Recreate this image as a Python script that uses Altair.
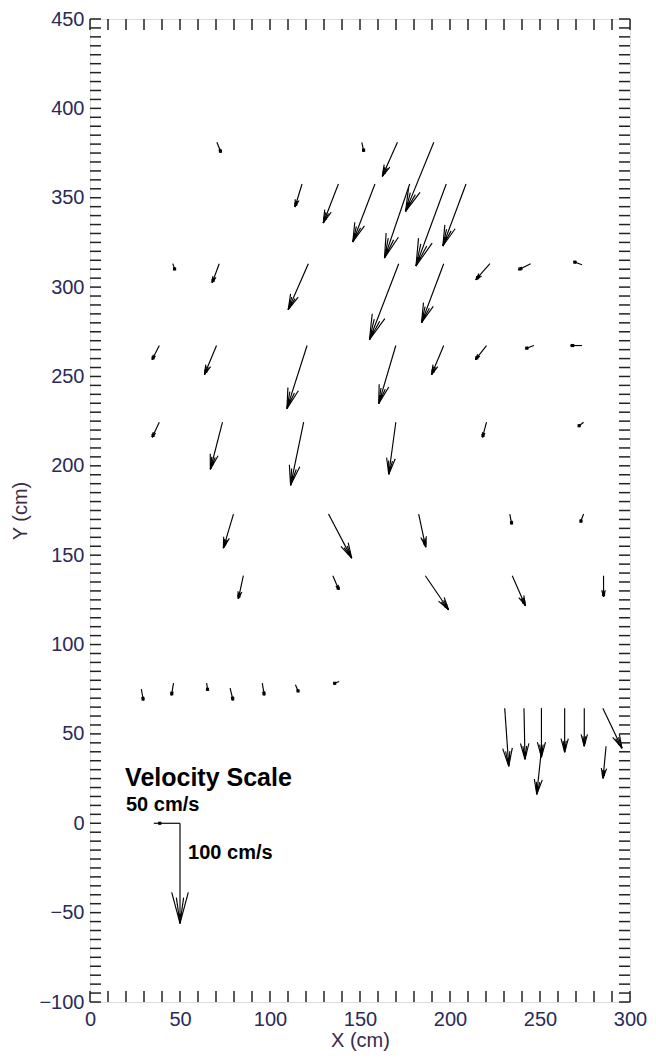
import math
import altair as alt
import pandas as pd

# ---------------- data ----------------
# arrow origins (cm)
x_pos = [70.5, 151.0, 170.8, 191.0,
         117.8, 138.0, 158.3, 177.6, 197.9, 208.9,
         46.0, 71.8, 121.3, 171.5, 196.5, 222.2, 244.8, 273.3,
         38.5, 70.3, 120.6, 169.9, 196.5, 220.3, 246.6, 273.3,
         38.5, 73.6, 118.7, 169.9, 220.3, 274.2,
         79.7, 132.5, 182.6, 233.2, 274.2,
         85.2, 134.9, 186.3, 234.6, 285.3,
         28.5, 46.4, 64.8, 77.8, 95.7, 114.1, 138.4,
         230.4, 241.1, 250.8, 251.0, 263.7, 274.6, 284.9, 286.7]
y_pos = [381.0, 381.0, 381.0, 381.0,
         357.7, 357.7, 357.7, 357.7, 357.7, 357.7,
         313.1, 313.1, 313.1, 313.1, 313.1, 313.1, 313.1, 312.5,
         267.3, 267.3, 267.3, 267.3, 267.3, 267.3, 267.3, 267.3,
         224.4, 224.4, 224.4, 224.4, 224.4, 224.4,
         173.0, 173.0, 173.0, 173.0, 173.0,
         138.5, 138.5, 138.5, 138.5, 138.5,
         75.0, 78.4, 78.4, 75.6, 78.4, 77.5, 79.3,
         64.4, 64.4, 64.4, 43.1, 64.4, 64.4, 64.4, 43.1]
# velocity components (cm/s)
u_vel = [4, 2, -15, -28,
         -7, -15, -22, -25, -30, -23,
         2, -7, -20, -29, -22, -14, -12, -8,
         -7, -12, -20, -17, -12, -11, -8, -11,
         -7, -12, -13, -7, -4, -5,
         -10, 23, 7, 2, -3,
         -5, 6, 23, 13, 0,
         2, -2, 1, 3, 2, 3, -5,
         4, 1, 0, -5, 0, 0, 19, -3]
v_vel = [-10, -9, -34, -69,
         -23, -39, -58, -74, -82, -62,
         -6, -19, -46, -76, -59, -16, -6, 3,
         -14, -29, -63, -58, -29, -14, -3, 0,
         -15, -47, -63, -52, -15, -4,
         -34, -44, -33, -10, -8,
         -23, -14, -34, -30, -21,
         -11, -12, -7, -12, -12, -7, -2,
         -58, -51, -49, -48, -44, -38, -40, -32]

# velocity-scale key
key_x = [50.0, 50.0]
key_y = [0.0, 0.0]
key_u = [-26, 0]
key_v = [0, -100]

x_ticks_major = [0, 50, 100, 150, 200, 250, 300]
y_ticks_major = [-100, -50, 0, 50, 100, 150, 200, 250, 300, 350, 400, 450]
x_ticks_minor = list(range(0, 301, 10))
y_ticks_minor = list(range(-100, 451, 5))

# ---------------- geometry helpers ----------------
W, H = 540, 983
SX, SY = W / 300.0, H / 550.0
S = 0.56  # data units per cm/s


def build(xs, ys, us, vs, heads=True):
    segs, pts = [], []
    for x, y, u, v in zip(xs, ys, us, vs):
        x2, y2 = x + u * S, y + v * S
        segs.append(dict(x=x, y=y, x2=x2, y2=y2))
        dxp, dyp = u * S * SX, v * S * SY
        L = math.hypot(dxp, dyp)
        if L == 0:
            continue
        bx, by = -dxp / L, -dyp / L
        if heads:
            for deg, frac in ((15, 0.32), (-15, 0.32), (8, 0.26), (-8, 0.26)):
                h = frac * L
                a = math.radians(deg)
                rx = bx * math.cos(a) - by * math.sin(a)
                ry = bx * math.sin(a) + by * math.cos(a)
                segs.append(dict(x=x2, y=y2, x2=x2 + h * rx / SX,
                                 y2=y2 + h * ry / SY))
            back = min(0.12 * L, 8)
        else:
            back = 6
        pts.append(dict(x=x2 + back * bx / SX, y=y2 + back * by / SY))
    return segs, pts


seg_a, pt_a = build(x_pos, y_pos, u_vel, v_vel)
seg_k1, pt_k1 = build(key_x[:1], key_y[:1], key_u[:1], key_v[:1], heads=False)
seg_k2, pt_k2 = build(key_x[1:], key_y[1:], key_u[1:], key_v[1:])
segs = pd.DataFrame(seg_a + seg_k1 + seg_k2)
pts = pd.DataFrame(pt_a + pt_k1 + pt_k2)

xs = alt.Scale(domain=[0, 300], nice=False, zero=False)
ys = alt.Scale(domain=[-100, 450], nice=False, zero=False)

LABEL_COLOR = "#2a2a58"
TITLE_COLOR = "#3a2b4a"
FONT = "Liberation Sans"

x_axis = alt.Axis(values=x_ticks_major, ticks=False, domain=False, grid=False,
                  labelFontSize=20, labelFont=FONT, labelColor=LABEL_COLOR,
                  labelPadding=7, labelFlush=False, labelOverlap=False,
                  title="X (cm)", titleFont=FONT,
                  titleFontSize=20, titleFontWeight="normal",
                  titleColor=TITLE_COLOR, titlePadding=1, format="d")
y_axis = alt.Axis(values=y_ticks_major, ticks=False, domain=False, grid=False,
                  labelFontSize=20, labelFont=FONT, labelColor=LABEL_COLOR,
                  labelPadding=6, labelFlush=False, labelOverlap=False,
                  title="Y (cm)", titleFont=FONT,
                  titleFontSize=20, titleFontWeight="normal",
                  titleColor=TITLE_COLOR, titlePadding=8, format="d")

arrows = alt.Chart(segs).mark_rule(color="black", strokeWidth=1.15).encode(
    x=alt.X("x:Q", scale=xs, axis=x_axis),
    y=alt.Y("y:Q", scale=ys, axis=y_axis),
    x2="x2:Q", y2="y2:Q")

blobs = alt.Chart(pts).mark_point(shape="square", filled=True, size=10,
                                  color="black", opacity=1).encode(
    x=alt.X("x:Q", scale=xs), y=alt.Y("y:Q", scale=ys))

TL = 11
tick_color = "#222222"
xt = pd.DataFrame({"t": x_ticks_minor})
yt = pd.DataFrame({"t": y_ticks_minor})
top_ticks = alt.Chart(xt).mark_rule(color=tick_color, strokeWidth=1.5).encode(
    x=alt.X("t:Q", scale=xs), y=alt.value(0), y2=alt.value(TL))
bot_ticks = alt.Chart(xt).mark_rule(color=tick_color, strokeWidth=1.5).encode(
    x=alt.X("t:Q", scale=xs), y=alt.value(H), y2=alt.value(H - TL))
left_ticks = alt.Chart(yt).mark_rule(color=tick_color, strokeWidth=1.5).encode(
    y=alt.Y("t:Q", scale=ys), x=alt.value(0), x2=alt.value(TL))
right_ticks = alt.Chart(yt).mark_rule(color=tick_color, strokeWidth=1.5).encode(
    y=alt.Y("t:Q", scale=ys), x=alt.value(W), x2=alt.value(W - TL))

labels = pd.DataFrame({
    "x": [19.5, 20.0, 54.5],
    "y": [21.1, 6.8, -20.1],
    "text": ["Velocity Scale", "50 cm/s", "100 cm/s"],
    "size": [25, 20, 20],
})
texts = alt.Chart(labels).mark_text(align="left", baseline="alphabetic",
                                    font=FONT, fontWeight="bold",
                                    color="black").encode(
    x=alt.X("x:Q", scale=xs), y=alt.Y("y:Q", scale=ys), text="text:N",
    size=alt.Size("size:Q", scale=None, legend=None))

chart = alt.layer(arrows, blobs, top_ticks, bot_ticks, left_ticks, right_ticks,
                  texts).properties(
    width=W, height=H,
    autosize=alt.AutoSizeParams(type="none"),
    padding={"left": 82, "top": 11, "right": 18, "bottom": 49},
).configure_view(stroke="#222222", strokeWidth=2).configure(background="white")

chart.save("out.html", embed_options={"renderer": "svg", "actions": False})
